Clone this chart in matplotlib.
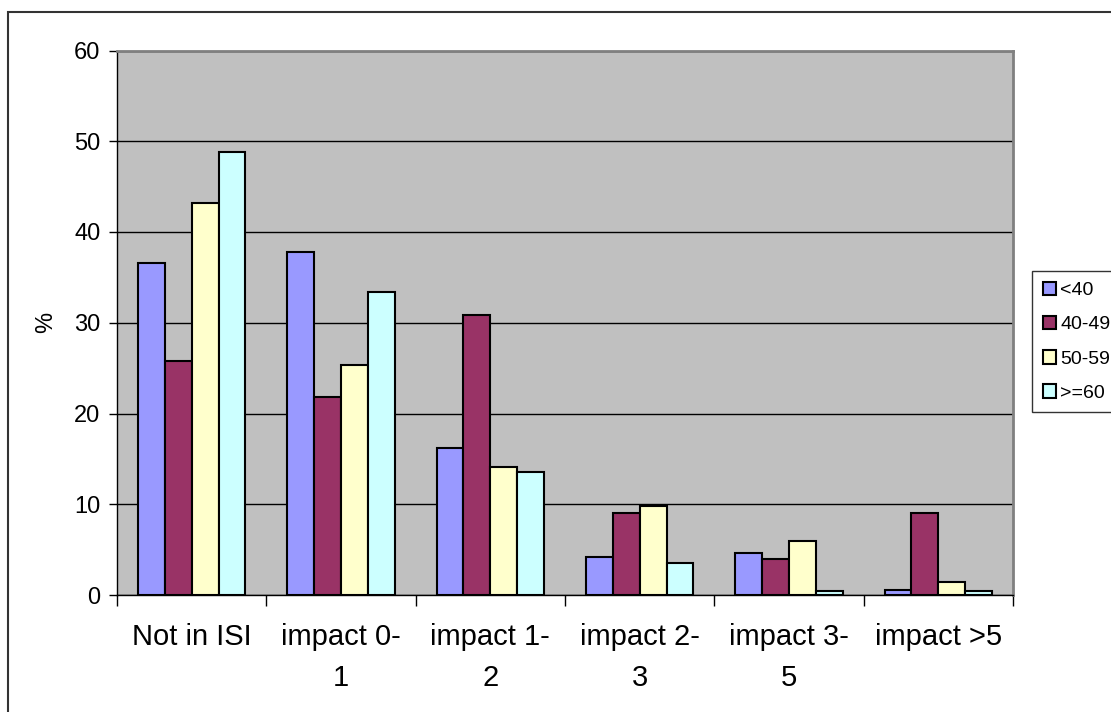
import numpy as np
import matplotlib.pyplot as plt
from matplotlib.patches import Rectangle

plt.rcParams['font.family'] = ['Liberation Sans', 'DejaVu Sans']

categories = ["Not in ISI", "impact 0-\n1", "impact 1-\n2", "impact 2-\n3", "impact 3-\n5", "impact >5"]
series_names = ["<40", "40-49", "50-59", ">=60"]
lt40 = [36.6, 37.8, 16.2, 4.2, 4.6, 0.6]
s40_49 = [25.8, 21.8, 30.8, 9.0, 4.0, 9.0]
s50_59 = [43.2, 25.3, 14.1, 9.8, 6.0, 1.4]
ge60 = [48.8, 33.4, 13.5, 3.5, 0.4, 0.4]
colors = ["#9999FF", "#993366", "#FFFFCC", "#CCFFFF"]

fig = plt.figure(figsize=(11.11, 7.12), dpi=100)
ax = fig.add_axes([117/1111, 1 - 595/712, (1013 - 117)/1111, (595 - 50.5)/712])

# outer chart frame (cut off at right and bottom)
fig.patches.append(Rectangle((8/1111, -0.01), 1.02, 1 - 12/712 + 0.01,
                             transform=fig.transFigure, fill=False,
                             edgecolor="#333333", linewidth=1.5, zorder=0))

ax.set_facecolor("#C0C0C0")
x = np.arange(len(categories))
w = 0.18
for i, (vals, c, name) in enumerate(zip([lt40, s40_49, s50_59, ge60], colors, series_names)):
    ax.bar(x + (i - 1.5) * w, vals, w, color=c, edgecolor="black", linewidth=1.5,
           label=name, zorder=3)

ax.set_xlim(-0.5, len(categories) - 0.5)
ax.set_ylim(0, 60)
ax.set_yticks(range(0, 61, 10))
ax.yaxis.grid(True, color="black", linewidth=1.0, zorder=1)
ax.set_axisbelow(True)

ax.set_xticks(x)
ax.set_xticklabels(categories, fontsize=21, linespacing=1.62)
ax.tick_params(axis="x", which="major", length=0, pad=20)
ax.set_xticks(np.arange(-0.5, len(categories)), minor=True)
ax.tick_params(axis="x", which="minor", length=8, width=1, color="black")
ax.tick_params(axis="y", labelsize=17, length=6, width=1, pad=6)
ax.set_ylabel("%", fontsize=17, labelpad=12)

for side in ["top", "right"]:
    ax.spines[side].set_color("#808080")
    ax.spines[side].set_linewidth(2)
for side in ["left", "bottom"]:
    ax.spines[side].set_color("black")
    ax.spines[side].set_linewidth(1)

leg = ax.legend(loc="upper left", bbox_to_anchor=(1032/1111, 1 - 271/712),
                bbox_transform=fig.transFigure, borderaxespad=0, fontsize=14,
                frameon=True, fancybox=False, edgecolor="black",
                handlelength=0.7, handleheight=0.7, handletextpad=0.2,
                labelspacing=0.85, borderpad=0.55)
leg.get_frame().set_linewidth(1)

fig.savefig("out.png", dpi=100)
